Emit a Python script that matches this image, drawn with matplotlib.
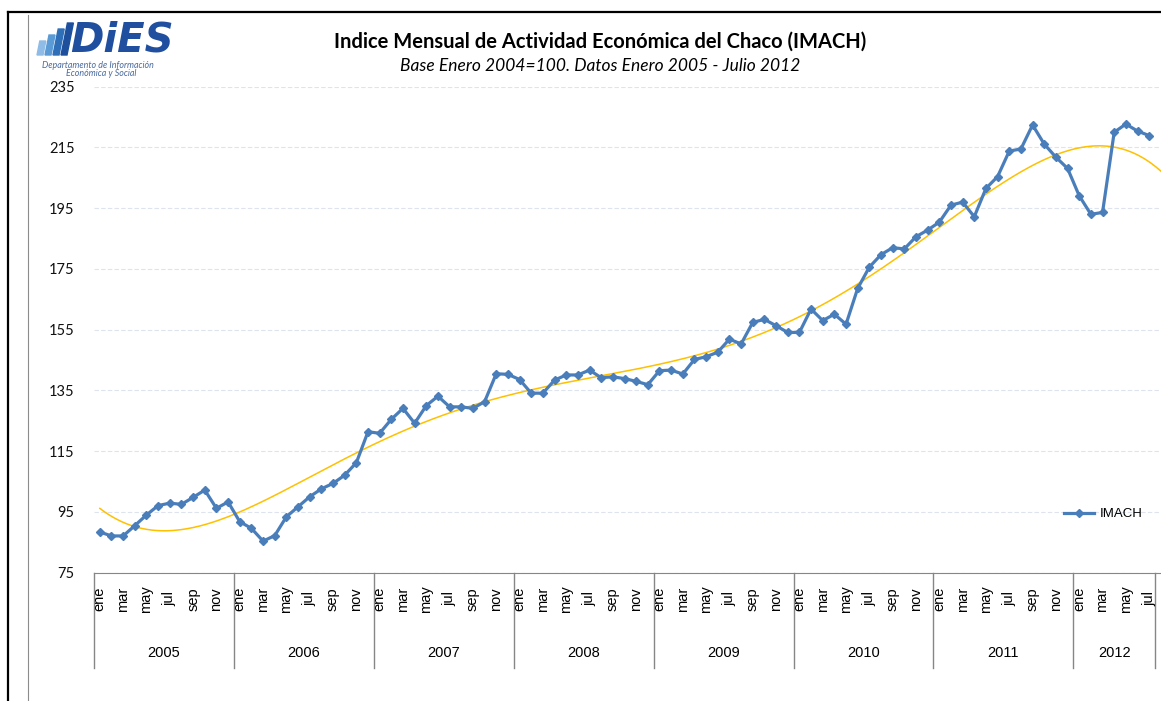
import numpy as np
import matplotlib.pyplot as plt
import matplotlib.transforms as mtransforms
from matplotlib.lines import Line2D
from matplotlib.patches import Polygon

plt.rcParams['font.family'] = ['Lato', 'DejaVu Sans']

# Data
years = ['2005', '2006', '2007', '2008', '2009', '2010', '2011', '2012']
month_names = ['ene', 'feb', 'mar', 'abr', 'may', 'jun',
               'jul', 'ago', 'sep', 'oct', 'nov', 'dic']

imach_2005 = [88.4, 87.1, 87.1, 90.5, 94.0, 97.1, 97.9, 97.5, 99.8, 102.2, 96.2, 98.3]
imach_2006 = [91.8, 89.6, 85.4, 87.2, 93.4, 96.7, 100.0, 102.6, 104.4, 107.1, 111.2, 121.4]
imach_2007 = [120.9, 125.5, 129.1, 124.2, 130.0, 133.1, 129.6, 129.6, 129.1, 131.3, 140.5, 140.3]
imach_2008 = [138.6, 134.1, 134.1, 138.4, 140.1, 140.1, 141.7, 139.2, 139.5, 138.9, 138.0, 136.9]
imach_2009 = [141.5, 141.7, 140.4, 145.2, 146.1, 147.6, 151.9, 150.3, 157.4, 158.4, 156.3, 154.1]
imach_2010 = [154.1, 161.8, 158.0, 160.1, 156.8, 168.6, 175.6, 179.7, 182.0, 181.6, 185.6, 187.8]
imach_2011 = [190.4, 196.0, 197.0, 192.2, 201.5, 205.4, 213.8, 214.5, 222.4, 216.1, 211.8, 208.1]
imach_2012 = [199.1, 193.0, 193.6, 220.0, 222.7, 220.4, 218.9]

imach = (imach_2005 + imach_2006 + imach_2007 + imach_2008 +
         imach_2009 + imach_2010 + imach_2011 + imach_2012)
x = np.arange(len(imach))

# polynomial trend line (like the Excel trendline)
coef = np.polyfit(x + 1, imach, 5)
xt = np.linspace(0, 93, 500)
trend = np.polyval(coef, xt + 1)

W, H = 1161, 701
fig = plt.figure(figsize=(W / 100, H / 100), dpi=100)

cat_px = 1061 / 91
ax_left, ax_top, ax_bot = 94, 86.7, 572.7
ax_w = W - ax_left + 12
ax = fig.add_axes([ax_left / W, (H - ax_bot) / H, ax_w / W, (ax_bot - ax_top) / H])

ax.plot(xt, trend, color='#ffc000', lw=1.1, zorder=2)
ax.plot(x, imach, color='#4a7ebb', lw=2.3, marker='D', ms=3.6,
        mec='#4a7ebb', mfc='#4a7ebb', label='IMACH', zorder=3)

ax.set_xlim(-0.5, -0.5 + ax_w / cat_px)
ax.set_ylim(75, 235)
ax.set_yticks(range(75, 236, 20))
ax.set_xticks([])
ax.yaxis.grid(True, color='#dde4ee', linestyle=(0, (4, 2)), lw=0.8)
ax.set_axisbelow(True)
for s in ['left', 'top', 'right']:
    ax.spines[s].set_visible(False)
ax.spines['bottom'].set_color('#868686')
ax.tick_params(axis='y', length=0, pad=14, labelsize=10.5, labelcolor='#111111')

# multi-level category axis
trans = mtransforms.blended_transform_factory(ax.transData, ax.transAxes)
for i in x:
    if (i % 12) % 2 == 0:
        ax.text(i, -0.054, month_names[i % 12], transform=trans, rotation=90,
                ha='center', va='center', fontsize=10.5, family='Liberation Sans')
bounds = [-0.5]
for k, yr in enumerate(years):
    start = 12 * k
    end = min(start + 12, len(imach))
    bounds.append(end - 0.5)
    ax.text((start + end - 1) / 2, -0.165, yr, transform=trans, ha='center',
            va='center', fontsize=10.5, family='Liberation Sans')
for b in bounds:
    ax.plot([b, b], [0, -0.196], transform=trans, color='#868686', lw=1,
            clip_on=False)

ax.legend(loc='center left', bbox_to_anchor=(1052 / W, 1 - 514 / H),
          bbox_transform=fig.transFigure, frameon=False, handlelength=2.3,
          handletextpad=0.4, prop={'family': 'Liberation Sans', 'size': 9.5})

# titles
fig.text(600 / W, 1 - 42 / H, 'Indice Mensual de Actividad Económica del Chaco (IMACH)',
         ha='center', va='center', fontsize=14.5, fontweight='bold')
fig.text(600 / W, 1 - 66 / H, 'Base Enero 2004=100. Datos Enero 2005 - Julio 2012',
         ha='center', va='center', fontsize=12.5, style='italic')

# frame lines
fig.add_artist(Line2D([8 / W, 8 / W], [1 - 12 / H, 0], color='black', lw=1.6,
                      transform=fig.transFigure))
fig.add_artist(Line2D([8 / W, 1], [1 - 12 / H, 1 - 12 / H], color='black', lw=1.6,
                      transform=fig.transFigure))
fig.add_artist(Line2D([27.5 / W, 27.5 / W], [1 - 15 / H, 0], color='#8c8c8c', lw=0.8,
                      transform=fig.transFigure))

# logo
bar_cols = ['#8fbce6', '#5b9bd5', '#2f6fb8', '#1d4f9c']
for k, c in enumerate(bar_cols):
    x0 = 37 + 8 * k
    hgt = 14 + 6 * k
    pts = [(x0, 55), (x0 + 6, 55), (x0 + 6 + hgt * 0.2, 55 - hgt), (x0 + hgt * 0.2, 55 - hgt)]
    fig.add_artist(Polygon([(px / W, 1 - py / H) for px, py in pts], closed=True,
                           color=c, transform=fig.transFigure))
fig.text(70 / W, 1 - 52 / H, 'DiES', fontsize=29, fontweight='bold', style='italic',
         family='DejaVu Sans', color='#1f4f9e', ha='left', va='baseline')
fig.text(42 / W, 1 - 65 / H, 'Departamento de Información', fontsize=6.4,
         style='italic', color='#4a6aa0', ha='left', va='center')
fig.text(66 / W, 1 - 73 / H, 'Económica y Social', fontsize=6.4,
         style='italic', color='#4a6aa0', ha='left', va='center')

fig.savefig('out.png', dpi=100)
